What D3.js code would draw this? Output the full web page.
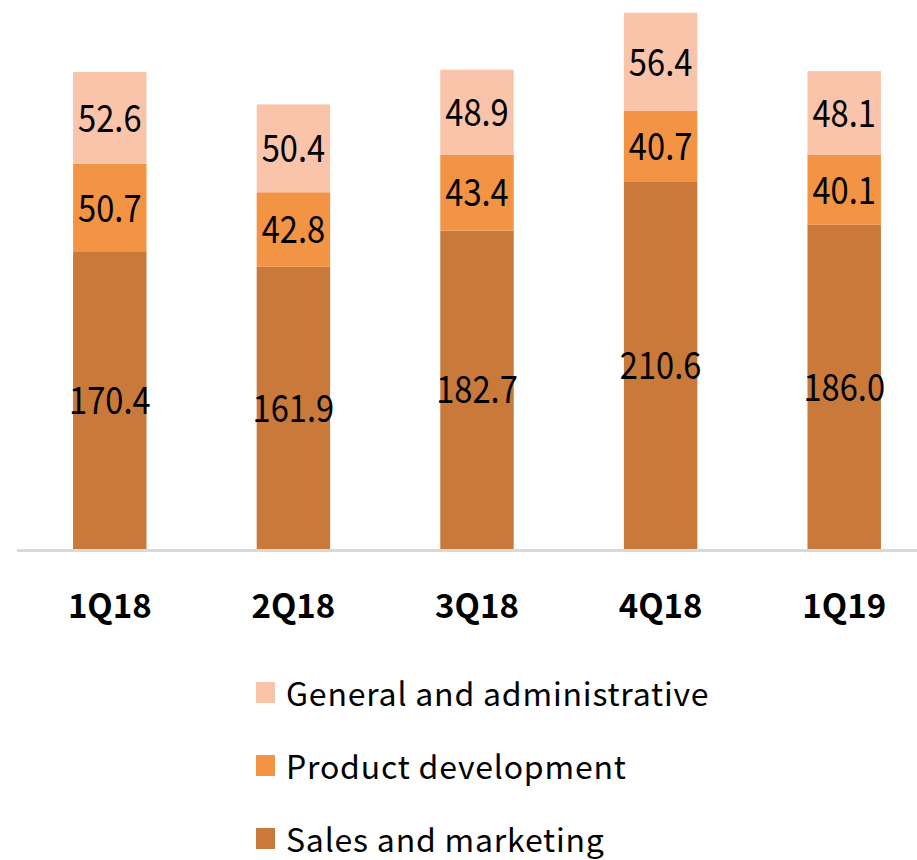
<!DOCTYPE html>
<html>
<head>
<meta charset="utf-8">
<script src="https://cdn.jsdelivr.net/npm/d3@7"></script>
<style>
  body { margin: 0; background: #fff; }
  svg text { font-family: "Noto Sans CJK KR", "Noto Sans", sans-serif; }
</style>
</head>
<body>
<div id="chart"></div>
<script>
const quarters = ["1Q18", "2Q18", "3Q18", "4Q18", "1Q19"];
const salesMarketing = [170.4, 161.9, 182.7, 210.6, 186.0];
const productDev = [50.7, 42.8, 43.4, 40.7, 40.1];
const generalAdmin = [52.6, 50.4, 48.9, 56.4, 48.1];

const seriesNames = ["Sales and marketing", "Product development", "General and administrative"];
const colors = ["#c97a3a", "#f39444", "#f9c4a9"];

const width = 917,
  height = 860;

const rows = quarters.map((q, i) => ({
  quarter: q,
  "Sales and marketing": salesMarketing[i],
  "Product development": productDev[i],
  "General and administrative": generalAdmin[i],
}));

const stacked = d3.stack().keys(seriesNames)(rows);

const svg = d3
  .select("#chart")
  .append("svg")
  .attr("width", width)
  .attr("height", height);

const xScale = d3
  .scaleBand()
  .domain(quarters)
  .range([18, 936])
  .paddingInner(0.6)
  .paddingOuter(0.3);

const yScale = d3.scaleLinear().domain([0, 315]).range([549, 0]);

const color = d3.scaleOrdinal().domain(seriesNames).range(colors);

// baseline
svg
  .append("line")
  .attr("x1", 17)
  .attr("x2", width)
  .attr("y1", 550.5)
  .attr("y2", 550.5)
  .attr("stroke", "#d9d9d9")
  .attr("stroke-width", 3);

const layers = svg
  .selectAll(".layer")
  .data(stacked)
  .join("g")
  .attr("class", "layer")
  .attr("fill", (d) => color(d.key));

layers
  .selectAll("rect")
  .data((d) => d)
  .join("rect")
  .attr("x", (d) => xScale(d.data.quarter))
  .attr("width", xScale.bandwidth())
  .attr("y", (d) => yScale(d[1]))
  .attr("height", (d) => yScale(d[0]) - yScale(d[1]));

// value labels, a bit condensed like the original font
layers
  .selectAll("text")
  .data((d) => d.map((v) => ({ v, key: d.key })))
  .join("text")
  .attr("transform", (d) => {
    const cx = xScale(d.v.data.quarter) + xScale.bandwidth() / 2;
    const cy = (yScale(d.v[0]) + yScale(d.v[1])) / 2;
    return `translate(${cx},${cy}) scale(0.86,1)`;
  })
  .attr("dy", "0.36em")
  .attr("text-anchor", "middle")
  .attr("fill", "#000")
  .style("font-size", "38px")
  .text((d) => d3.format(".1f")(d.v.data[d.key]));

// x axis labels
svg
  .append("g")
  .attr("transform", "translate(0,551)")
  .call(d3.axisBottom(xScale).tickSize(0).tickPadding(44))
  .call((g) => g.select(".domain").remove())
  .selectAll("text")
  .attr("fill", "#000")
  .style("font-family", "'Noto Sans CJK KR', sans-serif")
  .style("font-weight", "bold")
  .style("font-size", "33px");

// legend
const legendItems = seriesNames.slice().reverse();
const legend = svg
  .selectAll(".legend")
  .data(legendItems)
  .join("g")
  .attr("class", "legend")
  .attr("transform", (_, i) => `translate(256,${682 + i * 73})`);

legend
  .append("rect")
  .attr("width", 19)
  .attr("height", 21)
  .attr("fill", (d) => color(d));

legend
  .append("text")
  .attr("x", 30)
  .attr("y", 24)
  .attr("fill", "#000")
  .style("font-size", "32px")
  .style("letter-spacing", "0.8px")
  .text((d) => d);
</script>
</body>
</html>
